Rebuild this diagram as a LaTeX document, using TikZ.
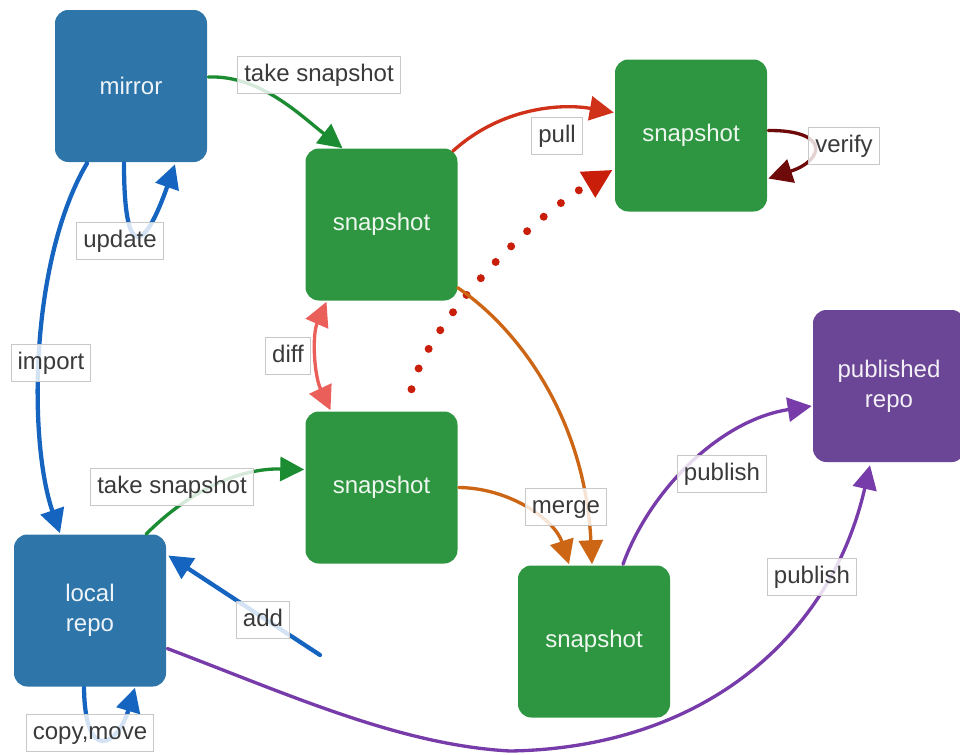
\documentclass[tikz,border=0pt]{standalone}
\usepackage{fontspec}
\setmainfont{Liberation Sans}
\usetikzlibrary{arrows.meta,calc}

\definecolor{boxblue}{HTML}{2E75AA}
\definecolor{boxgreen}{HTML}{2E9640}
\definecolor{boxpurple}{HTML}{6B4696}
\definecolor{arrblue}{HTML}{1565C0}
\definecolor{arrgreen}{HTML}{1B8C32}
\definecolor{arrred}{HTML}{D03219}
\definecolor{arrdot}{HTML}{C81E0A}
\definecolor{arrorange}{HTML}{CC6614}
\definecolor{arrpink}{HTML}{EB5F5A}
\definecolor{arrdark}{HTML}{6E0A0A}
\definecolor{arrpurple}{HTML}{783CAA}
\definecolor{lblgray}{HTML}{C8C8C8}
\definecolor{lbltext}{HTML}{3A3A3A}

\begin{document}
\begin{tikzpicture}[x=0.75pt,y=-0.75pt,
  box/.style={rounded corners=10pt, minimum width=114pt, minimum height=114pt,
    inner sep=0pt, text=white, text opacity=0.92, align=center,
    font=\fontsize{18}{22.5}\selectfont},
  lbl/.style={draw=lblgray, line width=0.8pt, fill=white, fill opacity=0.82,
    text opacity=1, text=lbltext, font=\fontsize{18}{22}\selectfont,
    text height=13pt, text depth=4pt, inner xsep=4.8pt, inner ysep=5.7pt},
  conn/.style={line width=2.5pt, line cap=round,
    -{Triangle[length=18pt,width=18pt]}},
  thick conn/.style={conn, line width=3.2pt},
  biconn/.style={line width=2.5pt,
    {Triangle[length=18pt,width=18pt]}-{Triangle[length=18pt,width=18pt]}},
]
\useasboundingbox (0,0) rectangle (960,754);
\clip (0,0) rectangle (960,754);

% repositories and snapshots
\node[box, fill=boxblue]   (mirror)    at (131,86)    {mirror};
\node[box, fill=boxgreen]  (snap1)     at (381.5,224.5) {snapshot};
\node[box, fill=boxgreen]  (snapTR)    at (691,135.5) {snapshot};
\node[box, fill=boxgreen]  (snap2)     at (381.5,487.5) {snapshot};
\node[box, fill=boxblue]   (localrepo) at (90,610.5)  {local\\repo};
\node[box, fill=boxgreen]  (snap3)     at (594,641.5) {snapshot};
\node[box, fill=boxpurple] (pubrepo)   at (889,386)   {published\\repo};

\coordinate (addtail) at (320,655);

% mirror -> snapshot
\draw[conn, arrgreen] ($(mirror.east)+(1,-9)$)
  .. controls (260,75) and (300,115) .. ($(snap1.north)+(-39,0)$);
% mirror update loop
\draw[thick conn, arrblue] ($(mirror.south)+(-7,1)$)
  .. controls (124,265) and (145,250) .. ($(mirror.south)+(44,2)$);
% mirror -> local repo (import)
\draw[thick conn, arrblue] ($(mirror.south)+(-44,1)$)
  .. controls (30,260) and (28,440) .. ($(localrepo.north)+(-30,-1)$);
% pull
\draw[conn, arrred] ($(snap1.north east)+(-5,3)$)
  .. controls (500,108) and (560,103) .. ($(snapTR.west)+(-1,-23)$);
% dotted pull from the working snapshot
\draw[arrdot, line width=6pt, line cap=round, dash pattern=on 0pt off 16.5pt,
  -{Triangle[length=22pt,width=21pt]}] ($(snap2.north)+(30,-22)$)
  .. controls (425,330) and (520,225) .. ($(snapTR.south west)+(-2,-42)$);
% merge
\draw[conn, arrorange] ($(snap1.south east)+(0,-13)$)
  .. controls (520,330) and (585,420) .. ($(snap3.north)+(-2,-1)$);
\draw[conn, arrorange] ($(snap2.east)+(1,0)$)
  .. controls (510,488) and (555,520) .. ($(snap3.north)+(-25,-1)$);
% diff
\draw[biconn, arrpink] ($(snap1.south)+(-55,1)$)
  .. controls (312,335) and (314,375) .. ($(snap2.north)+(-51,-1)$);
% local repo -> snapshot
\draw[conn, arrgreen] ($(localrepo.north)+(56,0)$)
  .. controls (190,490) and (240,468) .. ($(snap2.west)+(-1,-18)$);
% add
\draw[thick conn, arrblue] (addtail) -- ($(localrepo.east)+(2,-55)$);
% copy,move loop
\draw[thick conn, arrblue] ($(localrepo.south)+(-6,1)$)
  .. controls (85,765) and (118,745) .. ($(localrepo.south)+(45,1)$);
% verify loop
\draw[conn, arrdark] ($(snapTR.east)+(1,-5)$)
  .. controls (830,130) and (825,160) .. ($(snapTR.east)+(1,43)$);
% publish
\draw[conn, arrpurple] ($(snap3.north)+(29,-1)$)
  .. controls (650,490) and (720,420) .. ($(pubrepo.west)+(-1,20)$);
\draw[conn, arrpurple] ($(localrepo.east)+(1,38)$)
  .. controls (290,695) and (400,745) .. (510,751)
  .. controls (700,748) and (830,640) .. ($(pubrepo.south)+(-19,3)$);

% labels
\node[lbl] (lTake1)  at (319,75)  {take snapshot};
\node[lbl] (lUpdate) at (120,241) {update};
\node[lbl] (lPull)   at (557,136) {pull};
\node[lbl] (lVerify) at (844,146) {verify};
\node[lbl] (lImport) at (51,363)  {import};
\node[lbl] (lDiff)   at (288,356) {diff};
\node[lbl] (lTake2)  at (172,487) {take snapshot};
\node[lbl] (lAdd)    at (263,620) {add};
\node[lbl] (lCopy)   at (90,733)  {copy,move};
\node[lbl] (lMerge)  at (566,507) {merge};
\node[lbl] (lPub1)   at (722,474) {publish};
\node[lbl] (lPub2)   at (812,577) {publish};
\end{tikzpicture}
\end{document}
